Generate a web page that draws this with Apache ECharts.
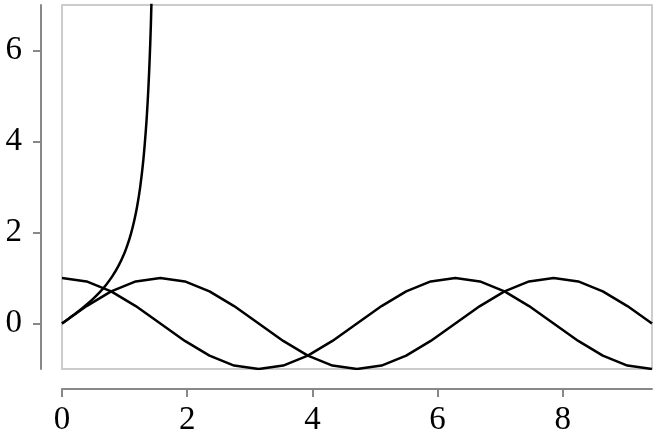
<!DOCTYPE html>
<html><head><meta charset="utf-8">
<script src="https://cdn.jsdelivr.net/npm/echarts@6/dist/echarts.min.js"></script>
<style>html,body{margin:0;padding:0;background:#fff}#c{width:658px;height:437px}</style>
</head><body><div id="c"></div>
<script>
var xs = [0, 0.393, 0.785, 1.178, 1.571, 1.963, 2.356, 2.749, 3.142, 3.534, 3.927, 4.320, 4.712, 5.105, 5.498, 5.890, 6.283, 6.676, 7.069, 7.461, 7.854, 8.247, 8.639, 9.032, 9.425];
var sinVals = [0, 0.383, 0.707, 0.924, 1, 0.924, 0.707, 0.383, 0, -0.383, -0.707, -0.924, -1, -0.924, -0.707, -0.383, 0, 0.383, 0.707, 0.924, 1, 0.924, 0.707, 0.383, 0];
var cosVals = [1, 0.924, 0.707, 0.383, 0, -0.383, -0.707, -0.924, -1, -0.924, -0.707, -0.383, 0, 0.383, 0.707, 0.924, 1, 0.924, 0.707, 0.383, 0, -0.383, -0.707, -0.924, -1];
var tanXs = [0, 0.1, 0.2, 0.3, 0.4, 0.5, 0.6, 0.7, 0.8, 0.9, 1.0, 1.05, 1.1, 1.15, 1.2, 1.25, 1.3, 1.35, 1.38, 1.4, 1.42, 1.44, 1.46, 1.48];
var tanVals = [0, 0.100, 0.203, 0.309, 0.423, 0.546, 0.684, 0.842, 1.030, 1.260, 1.557, 1.743, 1.965, 2.235, 2.572, 3.010, 3.602, 4.455, 5.177, 5.798, 6.581, 7.697, 9.121, 11.385];
var xTicks = [0, 2, 4, 6, 8];
var yTicks = [0, 2, 4, 6];

function pairs(a, b) { return a.map(function (v, i) { return [v, b[i]]; }); }

var font = 'Liberation Serif';
var chart = echarts.init(document.getElementById('c'), null, {renderer: 'canvas'});
var lineStyle = {color: '#000', width: 2.5};
var frameAxis = {
  axisLine: {show: true, onZero: false, lineStyle: {color: '#cccccc', width: 2}},
  axisTick: {show: false}, axisLabel: {show: false}, splitLine: {show: false}
};
chart.setOption({
  animation: false,
  grid: {left: 62, right: 6, top: 5, bottom: 67},
  xAxis: [{
    type: 'value', min: 0, max: 9.425, offset: 20, position: 'bottom',
    axisLine: {show: true, onZero: false, lineStyle: {color: '#888', width: 2}},
    axisTick: {show: true, length: 8, lineStyle: {color: '#888', width: 2}, customValues: xTicks},
    axisLabel: {customValues: xTicks, fontFamily: font, fontSize: 33, color: '#000', margin: 15},
    splitLine: {show: false}
  },
  Object.assign({type: 'value', min: 0, max: 9.425, position: 'bottom'}, frameAxis),
  Object.assign({type: 'value', min: 0, max: 9.425, position: 'top'}, frameAxis)
  ],
  yAxis: [{
    type: 'value', min: -1, max: 7, offset: 21, position: 'left',
    axisLine: {show: true, onZero: false, lineStyle: {color: '#888', width: 2}},
    axisTick: {show: true, length: 8, lineStyle: {color: '#888', width: 2}, customValues: yTicks},
    axisLabel: {customValues: yTicks, fontFamily: font, fontSize: 33, color: '#000', margin: 19},
    splitLine: {show: false}
  },
  Object.assign({type: 'value', min: -1, max: 7, position: 'left'}, frameAxis),
  Object.assign({type: 'value', min: -1, max: 7, position: 'right'}, frameAxis)
  ],
  series: [
    {type: 'line', data: pairs(xs, sinVals), showSymbol: false, lineStyle: lineStyle, clip: true},
    {type: 'line', data: pairs(xs, cosVals), showSymbol: false, lineStyle: lineStyle, clip: true},
    {type: 'line', data: pairs(tanXs, tanVals), showSymbol: false, lineStyle: lineStyle, clip: true, smooth: 0.3}
  ]
});
</script></body></html>
